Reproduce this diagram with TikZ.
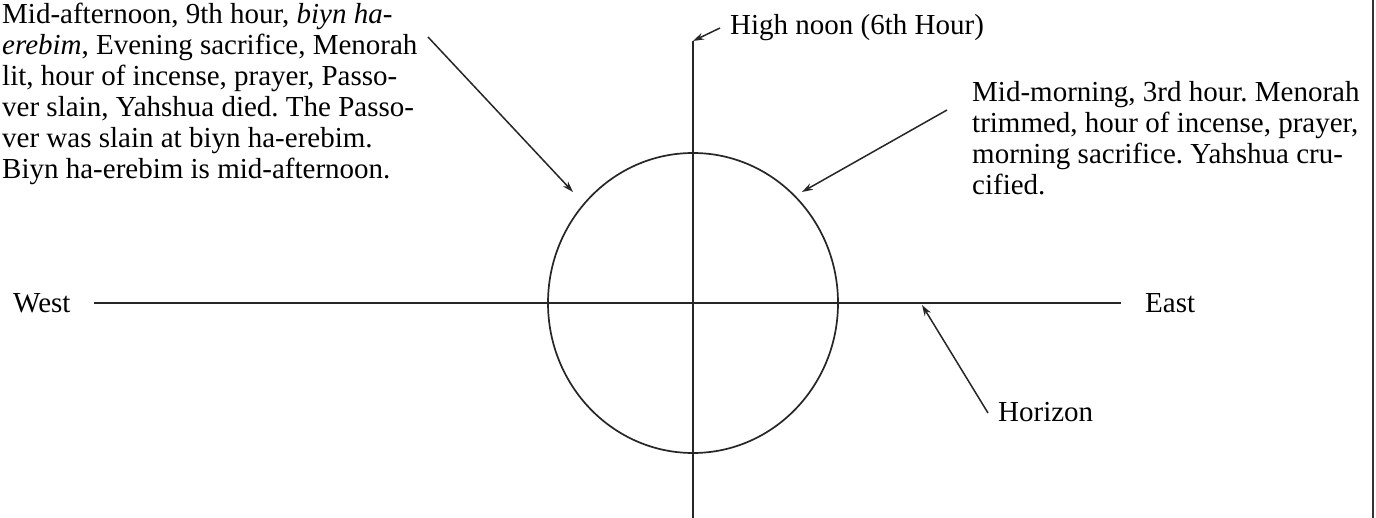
\documentclass[tikz,border=0pt]{standalone}
\usepackage{fontspec}
\setmainfont{Liberation Serif}
\usetikzlibrary{arrows.meta}
\frenchspacing
\begin{document}
\begin{tikzpicture}[x=1pt,y=-1pt,
  txt/.style={font=\fontsize{29}{31}\selectfont, inner sep=0pt, align=left},
  ln/.style={line width=1.7pt, draw=black!85},
  arr/.style={line width=1.5pt, draw=black!85, -{Stealth[length=11pt,width=7pt]}}]
\useasboundingbox (0,0) rectangle (1376,518);
% axes and sun circle
\coordinate (vtop) at (693,41);
\coordinate (vbot) at (693,518);
\coordinate (hl) at (94,303);
\coordinate (hr) at (1121,303);
\draw[ln] (vtop) -- (vbot);
\draw[ln] (hl) -- (hr);
\draw[ln] (693,303) ellipse [x radius=145, y radius=150];
\draw[line width=1.2pt, draw=black!80] (1373,0) -- (1373,518);
% labels
\node[txt, anchor=west] (west) at (13,303) {West};
\node[txt, anchor=west] (east) at (1145,303) {East};
\node[txt, anchor=west] (noon) at (730,28) {High noon (6th Hour)};
\node[txt, anchor=west] (hor) at (998,412) {Horizon};
\node[txt, anchor=north west] (left) at (2,3) {Mid-afternoon, 9th hour, \textit{biyn ha-}\\
\textit{erebim}, Evening sacrifice, Menorah\\
lit, hour of incense, prayer, Passo-\\
ver slain, Yahshua died. The Passo-\\
ver was slain at biyn ha-erebim.\\
Biyn ha-erebim is mid-afternoon.};
\node[txt, anchor=north west] (right) at (972,81) {Mid-morning, 3rd hour. Menorah\\
trimmed, hour of incense, prayer,\\
morning sacrifice. Yahshua cru-\\
cified.};
% arrow coordinates
\coordinate (la0) at (428,37);
\coordinate (la1) at (573,192);
\coordinate (ra0) at (947,110);
\coordinate (ra1) at (802,192);
\coordinate (na0) at (720,28);
\coordinate (ha0) at (988,413);
\coordinate (ha1) at (922,305);
\draw[arr] (la0) -- (la1);
\draw[arr] (ra0) -- (ra1);
\draw[arr] (na0) -- (vtop);
\draw[arr] (ha0) -- (ha1);
\end{tikzpicture}
\end{document}
